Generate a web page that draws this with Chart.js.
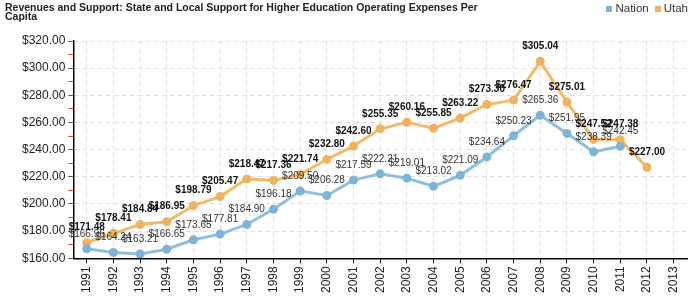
<!DOCTYPE html>
<html lang="en">
<head>
    <meta charset="UTF-8">
    <title>State and Local Support for Higher Education Operating Expenses Per Capita</title>
    <script src="https://cdn.jsdelivr.net/npm/chart.js"></script>
    <style>
        body {
            margin: 0;
            font-family: "Liberation Sans", Arial, sans-serif;
            background: #fff;
        }
        .wrap {
            position: relative;
            width: 700px;
            height: 300px;
        }
        .title {
            position: absolute;
            left: 5px;
            top: 3px;
            font-size: 10.5px;
            font-weight: bold;
            line-height: 9px;
            color: #222;
        }
        .legend {
            position: absolute;
            right: 12px;
            top: 2px;
            font-size: 11.5px;
            color: #333;
        }
        .legend span {
            margin-left: 6px;
        }
        .legend i {
            display: inline-block;
            width: 6px;
            height: 6px;
            margin-right: 3px;
        }
    </style>
</head>
<body>
    <div class="wrap">
        <div class="title">Revenues and Support: State and Local Support for Higher Education Operating Expenses Per<br>Capita</div>
        <div class="legend" id="legend"></div>
        <canvas id="chart"></canvas>
    </div>

    <script>
        const years = ["1991", "1992", "1993", "1994", "1995", "1996", "1997", "1998", "1999", "2000", "2001", "2002",
                       "2003", "2004", "2005", "2006", "2007", "2008", "2009", "2010", "2011", "2012", "2013"];
        const nation = [166.96, 164.24, 163.21, 166.65, 173.65, 177.81, 184.90, 196.18, 209.50, 206.28, 217.59, 222.21,
                        219.01, 213.02, 221.09, 234.64, 250.23, 265.36, 251.95, 238.39, 242.45, null, null];
        const utah = [171.48, 178.41, 184.84, 186.95, 198.79, 205.47, 218.47, 217.36, 221.74, 232.80, 242.60, 255.35,
                      260.16, 255.85, 263.22, 273.30, 276.47, 305.04, 275.01, 247.52, 247.38, 227.00, null];

        const money = v => "$" + v.toFixed(2);
        const fontFamily = "'Liberation Sans', Arial, sans-serif";

        // draws the value above every point
        const valueLabels = {
            id: "valueLabels",
            afterDatasetsDraw(chart) {
                const ctx = chart.ctx;
                ctx.save();
                ctx.textAlign = "center";
                ctx.textBaseline = "bottom";
                chart.data.datasets.forEach((ds, i) => {
                    const meta = chart.getDatasetMeta(i);
                    ctx.font = (i === 1 ? "bold " : "") + "10px " + fontFamily;
                    ctx.fillStyle = i === 1 ? "#111" : "#333";
                    meta.data.forEach((pt, j) => {
                        if (ds.data[j] == null) return;
                        ctx.fillText(money(ds.data[j]), pt.x, pt.y - 10);
                    });
                });
                ctx.restore();
            }
        };

        const ctx = document.getElementById("chart").getContext("2d");
        const chart = new Chart(ctx, {
            type: "line",
            data: {
                labels: years,
                datasets: [
                    {
                        label: "Nation",
                        data: nation,
                        borderColor: "rgba(126, 180, 216, 0.85)",
                        backgroundColor: "rgba(126, 180, 216, 1)",
                        borderWidth: 3,
                        pointRadius: 4.5,
                        pointBorderWidth: 0,
                        tension: 0
                    },
                    {
                        label: "Utah",
                        data: utah,
                        borderColor: "rgba(240, 178, 92, 0.9)",
                        backgroundColor: "rgba(240, 178, 92, 1)",
                        borderWidth: 3,
                        pointRadius: 4.5,
                        pointBorderWidth: 0,
                        tension: 0
                    }
                ]
            },
            options: {
                responsive: true,
                maintainAspectRatio: false,
                animation: false,
                layout: {
                    padding: { left: 19, right: 13, top: 41, bottom: 4 }
                },
                plugins: {
                    legend: { display: false },
                    tooltip: { enabled: false }
                },
                scales: {
                    x: {
                        offset: true,
                        grid: {
                            offset: false,
                            color: "#ddd",
                            tickColor: "#000",
                            tickLength: 5
                        },
                        border: { color: "#000", width: 1.5, dash: [4, 4] },
                        ticks: {
                            minRotation: 90,
                            maxRotation: 90,
                            autoSkip: false,
                            color: "#222",
                            padding: 3,
                            font: { family: fontFamily, size: 12 }
                        }
                    },
                    y: {
                        min: 160,
                        max: 320,
                        grid: {
                            color: c => (c.tick && c.tick.value % 20 === 0) ? "#ddd" : "rgba(0,0,0,0)",
                            tickColor: c => (c.tick && c.tick.value % 20 === 0) ? "#555" : "#e33",
                            tickLength: 5
                        },
                        border: { color: "#000", width: 1.5, dash: [4, 4] },
                        ticks: {
                            stepSize: 10,
                            autoSkip: false,
                            color: "#222",
                            padding: 3,
                            font: { family: fontFamily, size: 12 },
                            callback: v => v % 20 === 0 ? money(v) : ""
                        }
                    }
                }
            },
            plugins: [valueLabels]
        });

        // html legend built from the datasets
        document.getElementById("legend").innerHTML = chart.data.datasets
            .map(ds => `<span><i style="background:${ds.backgroundColor}"></i>${ds.label}</span>`)
            .join("");
    </script>
</body>
</html>
